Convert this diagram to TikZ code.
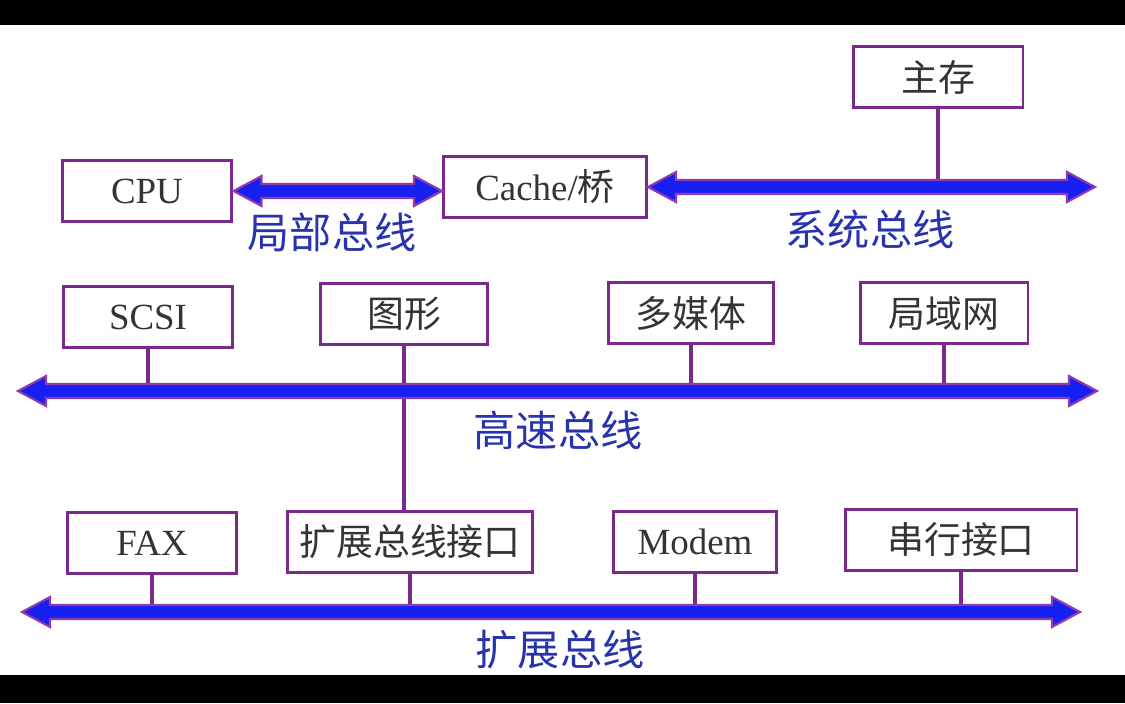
\documentclass[tikz,border=0pt]{standalone}
\usepackage{fontspec}
\setmainfont{Liberation Serif}
\newfontfamily\cjk{Noto Sans CJK SC}
\usetikzlibrary{calc}

\definecolor{boxpurple}{RGB}{122,42,138}
\definecolor{busblue}{RGB}{22,32,240}
\definecolor{busedge}{RGB}{145,60,170}
\definecolor{labelblue}{RGB}{40,52,172}
\definecolor{boxtext}{RGB}{52,52,52}

% bus arrow with two heads, from #1 to the point of #2 at the same height
\newcommand{\busarrow}[2]{%
  \path (#1) coordinate (bL) (#2 |- bL) coordinate (bR);
  \filldraw[bus] (bL) -- ($(bL)+(28,15)$) -- ($(bL)+(28,7)$)
    -- ($(bR)+(-28,7)$) -- ($(bR)+(-28,15)$) -- (bR)
    -- ($(bR)+(-28,-15)$) -- ($(bR)+(-28,-7)$)
    -- ($(bL)+(28,-7)$) -- ($(bL)+(28,-15)$) -- cycle;}

\begin{document}
\begin{tikzpicture}[
    x=0.02cm, y=-0.02cm,
    unit/.style={draw=boxpurple, line width=1.7pt, fill=white, inner sep=0pt,
                 minimum height=1.22cm, text=boxtext,
                 font=\fontsize{21}{25}\selectfont},
    link/.style={draw=boxpurple, line width=1.8pt},
    bus/.style={fill=busblue, draw=busedge, line width=1.2pt, line join=miter},
    buslabel/.style={text=labelblue, font=\cjk\fontsize{24}{28}\selectfont},
]
\useasboundingbox (0,0) rectangle (1125,703);
% Screen
\fill[white] (0,25) rectangle (1125,675);
\fill[black] (0,0) rectangle (1125,25);
\fill[black] (0,675) rectangle (1125,703);

% Units
\node[unit, minimum width=3.4cm] (mem) at (938,77) {\cjk 主存};
\node[unit, minimum width=3.4cm] (cpu) at (147,191) {CPU};
\node[unit, minimum width=4.06cm] (cache) at (545,187) {Cache/{\cjk 桥}};

\node[unit, minimum width=3.4cm] (scsi) at (148,317) {SCSI};
\node[unit, minimum width=3.34cm] (graph) at (404,314) {\cjk 图形};
\node[unit, minimum width=3.3cm] (media) at (691,313) {\cjk 多媒体};
\node[unit, minimum width=3.36cm] (lan) at (944,313) {\cjk 局域网};

\node[unit, minimum width=3.38cm] (fax) at (152,543) {FAX};
\node[unit, minimum width=4.92cm] (extif) at (410,542) {\cjk 扩展总线接口};
\node[unit, minimum width=3.26cm] (modem) at (695,542) {Modem};
\node[unit, minimum width=4.64cm] (serial) at (961,540) {\cjk 串行接口};

% Bus ends
\coordinate (sys-r) at (1095,188);
\coordinate (hs-l) at (18,391);
\coordinate (hs-r) at (1097,391);
\coordinate (ex-l) at (22,612);
\coordinate (ex-r) at (1080,612);

% Taps
\draw[link] (mem.south) -- (mem.south |- sys-r);
\draw[link] ($(cache.south)+(12,0)$) -- ($(cache.south)+(12,0)$ |- hs-l);
\foreach \n in {scsi, media, lan}
  \draw[link] (\n.south) -- (\n.south |- hs-l);
\draw[link] (graph.south) -- (graph.south |- extif.north);
\foreach \n in {fax, extif, modem, serial}
  \draw[link] (\n.south) -- (\n.south |- ex-l);

% Buses
\busarrow{cpu.east}{cache.west}
\busarrow{cache.east}{sys-r}
\busarrow{hs-l}{hs-r}
\busarrow{ex-l}{ex-r}

% Bus names
\node[buslabel] (lb-local) at (332,232) {局部总线};
\node[buslabel] (lb-sys) at (870,229) {系统总线};
\node[buslabel] (lb-hs) at (558,430) {高速总线};
\node[buslabel] (lb-ex) at (560,650) {扩展总线};
\end{tikzpicture}
\end{document}
